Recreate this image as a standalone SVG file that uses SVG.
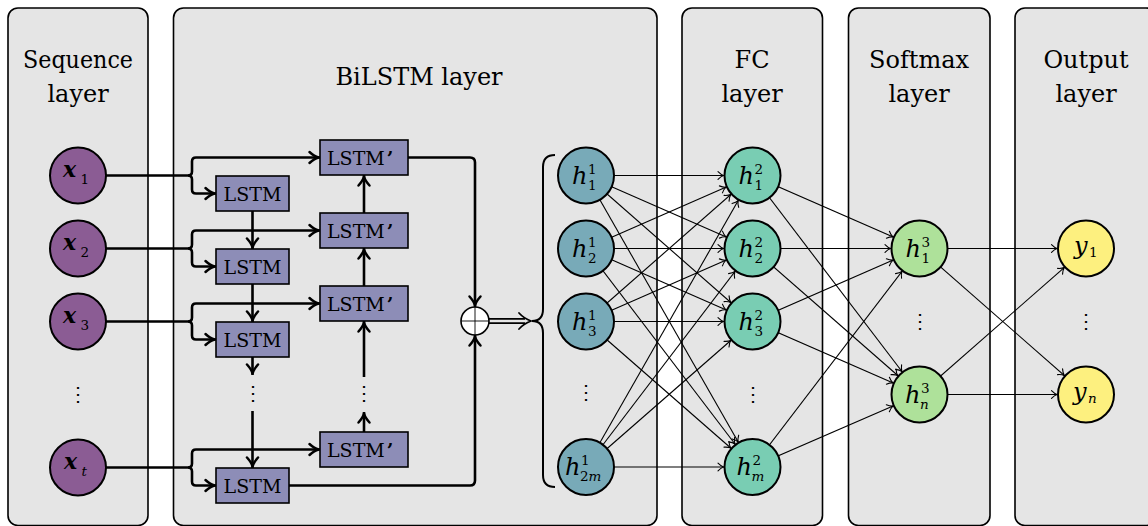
<svg xmlns="http://www.w3.org/2000/svg" width="1148" height="526" viewBox="0 0 1148 526">
<style>
.panel{fill:#e5e5e5;stroke:#000;stroke-width:1.6}
text{font-family:'DejaVu Serif','Liberation Serif',serif}
.title{font-size:24px;text-anchor:middle;fill:#000}
.box{fill:#8d8db7;stroke:#000;stroke-width:1.6}
.lt{font-size:19px;text-anchor:middle;fill:#000}
.lp{font-size:19px;fill:#000}
.nd{stroke:#000;stroke-width:2}
.thick{fill:none;stroke:#000;stroke-width:2.6;stroke-linejoin:round}
.thin{fill:none;stroke:#000;stroke-width:1.1}
.mi{font-style:italic;font-size:24px;fill:#000}
.mb{font-style:italic;font-weight:bold;font-size:22px;fill:#000}
.sc{font-style:normal;font-weight:normal;font-size:13.5px}
.si{font-style:italic;font-weight:normal;font-size:13.5px}
.dots{font-size:20px;text-anchor:middle;fill:#000}
</style>
<defs>
<marker id="ta" markerUnits="userSpaceOnUse" refX="29" refY="0" orient="auto" overflow="visible">
<path d="M-5.5,-3.8 Q-2.5,-0.8 0,0 Q-2.5,0.8 -5.5,3.8" fill="none" stroke="#000" stroke-width="1.1" stroke-linecap="round"/>
</marker>
<marker id="tb" markerUnits="userSpaceOnUse" refX="1.5" refY="0" orient="auto" overflow="visible">
<path d="M-9,-5.5 Q-4,-1 0,0 Q-4,1 -9,5.5" fill="none" stroke="#000" stroke-width="2.5" stroke-linecap="round" stroke-linejoin="round"/>
</marker>
</defs>

<g id="panels">
<rect class="panel" x="8" y="8" width="140" height="517.5" rx="10"/>
<rect class="panel" x="173.5" y="8" width="483.5" height="517.5" rx="10"/>
<rect class="panel" x="682" y="8" width="140.5" height="517.5" rx="10"/>
<rect class="panel" x="848.5" y="8" width="141.5" height="517.5" rx="10"/>
<rect class="panel" x="1015" y="8" width="141" height="517.5" rx="10"/>
<text class="title" x="78" y="68" textLength="110" lengthAdjust="spacingAndGlyphs">Sequence</text>
<text class="title" x="78" y="102">layer</text>
<text class="title" x="419" y="85">BiLSTM layer</text>
<text class="title" x="752" y="68">FC</text>
<text class="title" x="752" y="102">layer</text>
<text class="title" x="919" y="68">Softmax</text>
<text class="title" x="919" y="102">layer</text>
<text class="title" x="1086" y="68">Output</text>
<text class="title" x="1086" y="102">layer</text>
</g>

<g id="connectors">
<path class="thick" d="M106,175.5 H188 Q192,175.5 192,171.5 V161.5 Q192,157.5 196,157.5 H320" marker-end="url(#tb)"/>
<path class="thick" d="M188,175.5 Q192,175.5 192,179.5 V189.5 Q192,193.5 196,193.5 H216" marker-end="url(#tb)"/>
<path class="thick" d="M106,248.5 H188 Q192,248.5 192,244.5 V234.5 Q192,230.5 196,230.5 H320" marker-end="url(#tb)"/>
<path class="thick" d="M188,248.5 Q192,248.5 192,252.5 V262.5 Q192,266.5 196,266.5 H216" marker-end="url(#tb)"/>
<path class="thick" d="M106,321.5 H188 Q192,321.5 192,317.5 V307.5 Q192,303.5 196,303.5 H320" marker-end="url(#tb)"/>
<path class="thick" d="M188,321.5 Q192,321.5 192,325.5 V335.5 Q192,339.5 196,339.5 H216" marker-end="url(#tb)"/>
<path class="thick" d="M106,467.5 H188 Q192,467.5 192,463.5 V453.5 Q192,449.5 196,449.5 H320" marker-end="url(#tb)"/>
<path class="thick" d="M188,467.5 Q192,467.5 192,471.5 V481.5 Q192,485.5 196,485.5 H216" marker-end="url(#tb)"/>
<path class="thick" d="M252.5,211 V249" marker-end="url(#tb)"/>
<path class="thick" d="M252.5,284 V322" marker-end="url(#tb)"/>
<path class="thick" d="M252.5,357 V375" marker-end="url(#tb)"/>
<path class="thick" d="M252.5,411 V468" marker-end="url(#tb)"/>
<path class="thick" d="M364,213 V175" marker-end="url(#tb)"/>
<path class="thick" d="M364,286 V248" marker-end="url(#tb)"/>
<path class="thick" d="M364,377 V321" marker-end="url(#tb)"/>
<path class="thick" d="M364,432 V412" marker-end="url(#tb)"/>
<path class="thick" d="M408,157.5 H470 Q475,157.5 475,162.5 V307" marker-end="url(#tb)"/>
<path class="thick" d="M289,485.5 H470 Q475,485.5 475,480.5 V335" marker-end="url(#tb)"/>
<path d="M489,318.8 H525 M489,323.2 H525" fill="none" stroke="#000" stroke-width="1.8"/>
<path d="M519,313 Q524,318.5 531,321 Q524,323.5 519,329" fill="none" stroke="#000" stroke-width="1.8" stroke-linecap="round"/>
<path d="M555,155 Q543,155 543,167 V309 Q543,321 532,321 Q543,321 543,333 V475 Q543,487 555,487" fill="none" stroke="#000" stroke-width="2"/>
<g class="thin" marker-end="url(#ta)">
<path d="M586,175.5 L752.5,175.5"/><path d="M586,175.5 L752.5,248.5"/><path d="M586,175.5 L752.5,321.5"/><path d="M586,175.5 L752.5,467"/>
<path d="M586,248.5 L752.5,175.5"/><path d="M586,248.5 L752.5,248.5"/><path d="M586,248.5 L752.5,321.5"/><path d="M586,248.5 L752.5,467"/>
<path d="M586,321.5 L752.5,175.5"/><path d="M586,321.5 L752.5,248.5"/><path d="M586,321.5 L752.5,321.5"/><path d="M586,321.5 L752.5,467"/>
<path d="M586,467 L752.5,175.5"/><path d="M586,467 L752.5,248.5"/><path d="M586,467 L752.5,321.5"/><path d="M586,467 L752.5,467"/>
<path d="M752.5,175.5 L919.5,248.5"/><path d="M752.5,175.5 L919.5,394.5"/>
<path d="M752.5,248.5 L919.5,248.5"/><path d="M752.5,248.5 L919.5,394.5"/>
<path d="M752.5,321.5 L919.5,248.5"/><path d="M752.5,321.5 L919.5,394.5"/>
<path d="M752.5,467 L919.5,248.5"/><path d="M752.5,467 L919.5,394.5"/>
<path d="M919.5,248.5 L1086,248.5"/><path d="M919.5,248.5 L1086,394.5"/>
<path d="M919.5,394.5 L1086,248.5"/><path d="M919.5,394.5 L1086,394.5"/>
</g>
</g>

<g id="sum">
<circle cx="475" cy="321" r="14" fill="#fff" stroke="#000" stroke-width="1.6"/>
<path d="M461,321 H489 M475,307 V335" stroke="#000" stroke-width="0.9"/>
</g>

<g id="lstm-nodes">
<g id="lstm1"><rect class="box" x="216" y="176" width="73" height="35"/><text class="lt" x="252.5" y="200.5">LSTM</text></g>
<g id="lstm2"><rect class="box" x="216" y="249" width="73" height="35"/><text class="lt" x="252.5" y="273.5">LSTM</text></g>
<g id="lstm3"><rect class="box" x="216" y="322" width="73" height="35"/><text class="lt" x="252.5" y="346.5">LSTM</text></g>
<g id="lstmt"><rect class="box" x="216" y="468" width="73" height="35"/><text class="lt" x="252.5" y="492.5">LSTM</text></g>
<g id="lstmp1"><rect class="box" x="320" y="140" width="88" height="35"/><text class="lp" x="327" y="164.5">LSTM<tspan font-weight="bold" dx="2">’</tspan></text></g>
<g id="lstmp2"><rect class="box" x="320" y="213" width="88" height="35"/><text class="lp" x="327" y="237.5">LSTM<tspan font-weight="bold" dx="2">’</tspan></text></g>
<g id="lstmp3"><rect class="box" x="320" y="286" width="88" height="35"/><text class="lp" x="327" y="310.5">LSTM<tspan font-weight="bold" dx="2">’</tspan></text></g>
<g id="lstmpt"><rect class="box" x="320" y="432" width="88" height="35"/><text class="lp" x="327" y="456.5">LSTM<tspan font-weight="bold" dx="2">’</tspan></text></g>
<text class="dots" x="252.5" y="400">⋮</text>
<text class="dots" x="364" y="400">⋮</text>
</g>

<g id="x-nodes">
<g id="x1"><circle class="nd" cx="78" cy="175.5" r="28" fill="#8b5c94"/><text class="mb" x="63" y="177">x<tspan class="sc" x="80.5" y="183.5">1</tspan></text></g>
<g id="x2"><circle class="nd" cx="78" cy="248.5" r="28" fill="#8b5c94"/><text class="mb" x="63" y="250">x<tspan class="sc" x="80.5" y="256.5">2</tspan></text></g>
<g id="x3"><circle class="nd" cx="78" cy="321.5" r="28" fill="#8b5c94"/><text class="mb" x="63" y="323">x<tspan class="sc" x="80.5" y="329.5">3</tspan></text></g>
<g id="xt"><circle class="nd" cx="78" cy="467.5" r="28" fill="#8b5c94"/><text class="mb" x="64" y="469">x<tspan class="si" x="81.5" y="475.5">t</tspan></text></g>
<text class="dots" x="78" y="401">⋮</text>
</g>

<g id="h1-nodes">
<g id="h1_1"><circle class="nd" cx="586" cy="175.5" r="28" fill="#78aab8"/><text class="mi" x="572" y="183.5">h<tspan class="sc" x="588" y="173.5">1</tspan><tspan class="sc" x="588" y="189.5">1</tspan></text></g>
<g id="h1_2"><circle class="nd" cx="586" cy="248.5" r="28" fill="#78aab8"/><text class="mi" x="572" y="256.5">h<tspan class="sc" x="588" y="246.5">1</tspan><tspan class="sc" x="588" y="262.5">2</tspan></text></g>
<g id="h1_3"><circle class="nd" cx="586" cy="321.5" r="28" fill="#78aab8"/><text class="mi" x="572" y="329.5">h<tspan class="sc" x="588" y="319.5">1</tspan><tspan class="sc" x="588" y="335.5">3</tspan></text></g>
<g id="h1_2m"><circle class="nd" cx="586" cy="467" r="28" fill="#78aab8"/><text class="mi" x="565" y="475">h<tspan class="sc" x="581" y="465">1</tspan><tspan class="sc" x="580" y="481">2</tspan><tspan class="si">m</tspan></text></g>
<text class="dots" x="586" y="399">⋮</text>
</g>

<g id="h2-nodes">
<g id="h2_1"><circle class="nd" cx="752.5" cy="175.5" r="28" fill="#79cdb3"/><text class="mi" x="738.5" y="183.5">h<tspan class="sc" x="754.5" y="173.5">2</tspan><tspan class="sc" x="754.5" y="189.5">1</tspan></text></g>
<g id="h2_2"><circle class="nd" cx="752.5" cy="248.5" r="28" fill="#79cdb3"/><text class="mi" x="738.5" y="256.5">h<tspan class="sc" x="754.5" y="246.5">2</tspan><tspan class="sc" x="754.5" y="262.5">2</tspan></text></g>
<g id="h2_3"><circle class="nd" cx="752.5" cy="321.5" r="28" fill="#79cdb3"/><text class="mi" x="738.5" y="329.5">h<tspan class="sc" x="754.5" y="319.5">2</tspan><tspan class="sc" x="754.5" y="335.5">3</tspan></text></g>
<g id="h2_m"><circle class="nd" cx="752.5" cy="467" r="28" fill="#79cdb3"/><text class="mi" x="736.5" y="475">h<tspan class="sc" x="752.5" y="465">2</tspan><tspan class="si" x="751.5" y="481">m</tspan></text></g>
<text class="dots" x="752.5" y="401">⋮</text>
</g>

<g id="h3-nodes">
<g id="h3_1"><circle class="nd" cx="919.5" cy="248.5" r="28" fill="#aee19a"/><text class="mi" x="905.5" y="256.5">h<tspan class="sc" x="921.5" y="246.5">3</tspan><tspan class="sc" x="921.5" y="262.5">1</tspan></text></g>
<g id="h3_n"><circle class="nd" cx="919.5" cy="394.5" r="28" fill="#aee19a"/><text class="mi" x="905" y="402.5">h<tspan class="sc" x="921" y="392.5">3</tspan><tspan class="si" x="920" y="408.5">n</tspan></text></g>
<text class="dots" x="919.5" y="328">⋮</text>
</g>

<g id="y-nodes">
<g id="y1"><circle class="nd" cx="1086" cy="248.5" r="28" fill="#fdf07f"/><text class="mi" x="1074" y="253.5" font-size="23">y<tspan class="sc" x="1089" y="257">1</tspan></text></g>
<g id="yn"><circle class="nd" cx="1086" cy="394.5" r="28" fill="#fdf07f"/><text class="mi" x="1073" y="399.5" font-size="23">y<tspan class="si" x="1088" y="403">n</tspan></text></g>
<text class="dots" x="1086" y="328">⋮</text>
</g>
</svg>
